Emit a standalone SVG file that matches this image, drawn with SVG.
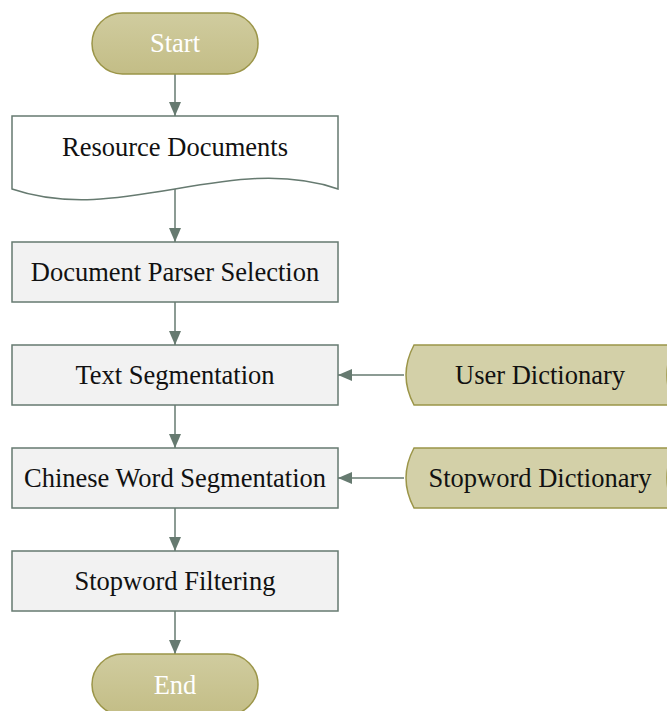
<svg xmlns="http://www.w3.org/2000/svg" width="667" height="711" viewBox="0 0 667 711">
  <style>
    text { font-family: "Liberation Serif", "Times New Roman", serif; font-size: 26.5px; text-anchor: middle; dominant-baseline: central; }
    .term { fill: url(#termGrad); stroke: #9b9548; stroke-width: 1.5; }
    .term-label { fill: #ffffff; }
    .proc { fill: #f2f2f2; stroke: #667a70; stroke-width: 1.5; }
    .doc { fill: #ffffff; stroke: #667a70; stroke-width: 1.5; }
    .store { fill: #d3d0a8; stroke: #9b9548; stroke-width: 1.5; }
    .label { fill: #111111; }
    .edge { stroke: #667a70; stroke-width: 1.5; fill: none; marker-end: url(#arrow); }
  </style>
  <defs>
    <linearGradient id="termGrad" x1="0" y1="0" x2="0" y2="1">
      <stop offset="0" stop-color="#d0cc9f"/>
      <stop offset="1" stop-color="#c3bd86"/>
    </linearGradient>
    <marker id="arrow" viewBox="0 0 14 12" refX="14" refY="6" markerWidth="14" markerHeight="12" markerUnits="userSpaceOnUse" orient="auto">
      <path d="M0,0 L14,6 L0,12 Z" fill="#667a70"/>
    </marker>
  </defs>

  <g id="connectors">
    <line class="edge" x1="175" y1="74" x2="175" y2="116"/>
    <line class="edge" x1="175" y1="189" x2="175" y2="242"/>
    <line class="edge" x1="175" y1="302" x2="175" y2="345"/>
    <line class="edge" x1="175" y1="405" x2="175" y2="448"/>
    <line class="edge" x1="175" y1="508" x2="175" y2="551"/>
    <line class="edge" x1="175" y1="611" x2="175" y2="654"/>
    <line class="edge" x1="404" y1="375" x2="338" y2="375"/>
    <line class="edge" x1="404" y1="478" x2="338" y2="478"/>
  </g>

  <g id="start">
    <rect class="term" x="92" y="13" width="166" height="61" rx="30.5"/>
    <text class="term-label" x="175" y="43">Start</text>
  </g>

  <g id="resource-documents">
    <path class="doc" d="M12,116 H338 V189 C230,152 120,226 12,189 Z"/>
    <text class="label" x="175" y="147">Resource Documents</text>
  </g>

  <g id="document-parser-selection">
    <rect class="proc" x="12" y="242" width="326" height="60"/>
    <text class="label" x="175" y="272">Document Parser Selection</text>
  </g>

  <g id="text-segmentation">
    <rect class="proc" x="12" y="345" width="326" height="60"/>
    <text class="label" x="175" y="375">Text Segmentation</text>
  </g>

  <g id="chinese-word-segmentation">
    <rect class="proc" x="12" y="448" width="326" height="60"/>
    <text class="label" x="175" y="478">Chinese Word Segmentation</text>
  </g>

  <g id="stopword-filtering">
    <rect class="proc" x="12" y="551" width="326" height="60"/>
    <text class="label" x="175" y="581">Stopword Filtering</text>
  </g>

  <g id="end">
    <rect class="term" x="92" y="654" width="166" height="61" rx="30.5"/>
    <text class="term-label" x="175" y="685">End</text>
  </g>

  <g id="user-dictionary">
    <path class="store" d="M414,345 H674 Q660,375 674,405 H414 Q398,375 414,345 Z"/>
    <text class="label" x="540" y="375">User Dictionary</text>
  </g>

  <g id="stopword-dictionary">
    <path class="store" d="M414,448 H674 Q660,478 674,508 H414 Q398,478 414,448 Z"/>
    <text class="label" x="540" y="478">Stopword Dictionary</text>
  </g>
</svg>
